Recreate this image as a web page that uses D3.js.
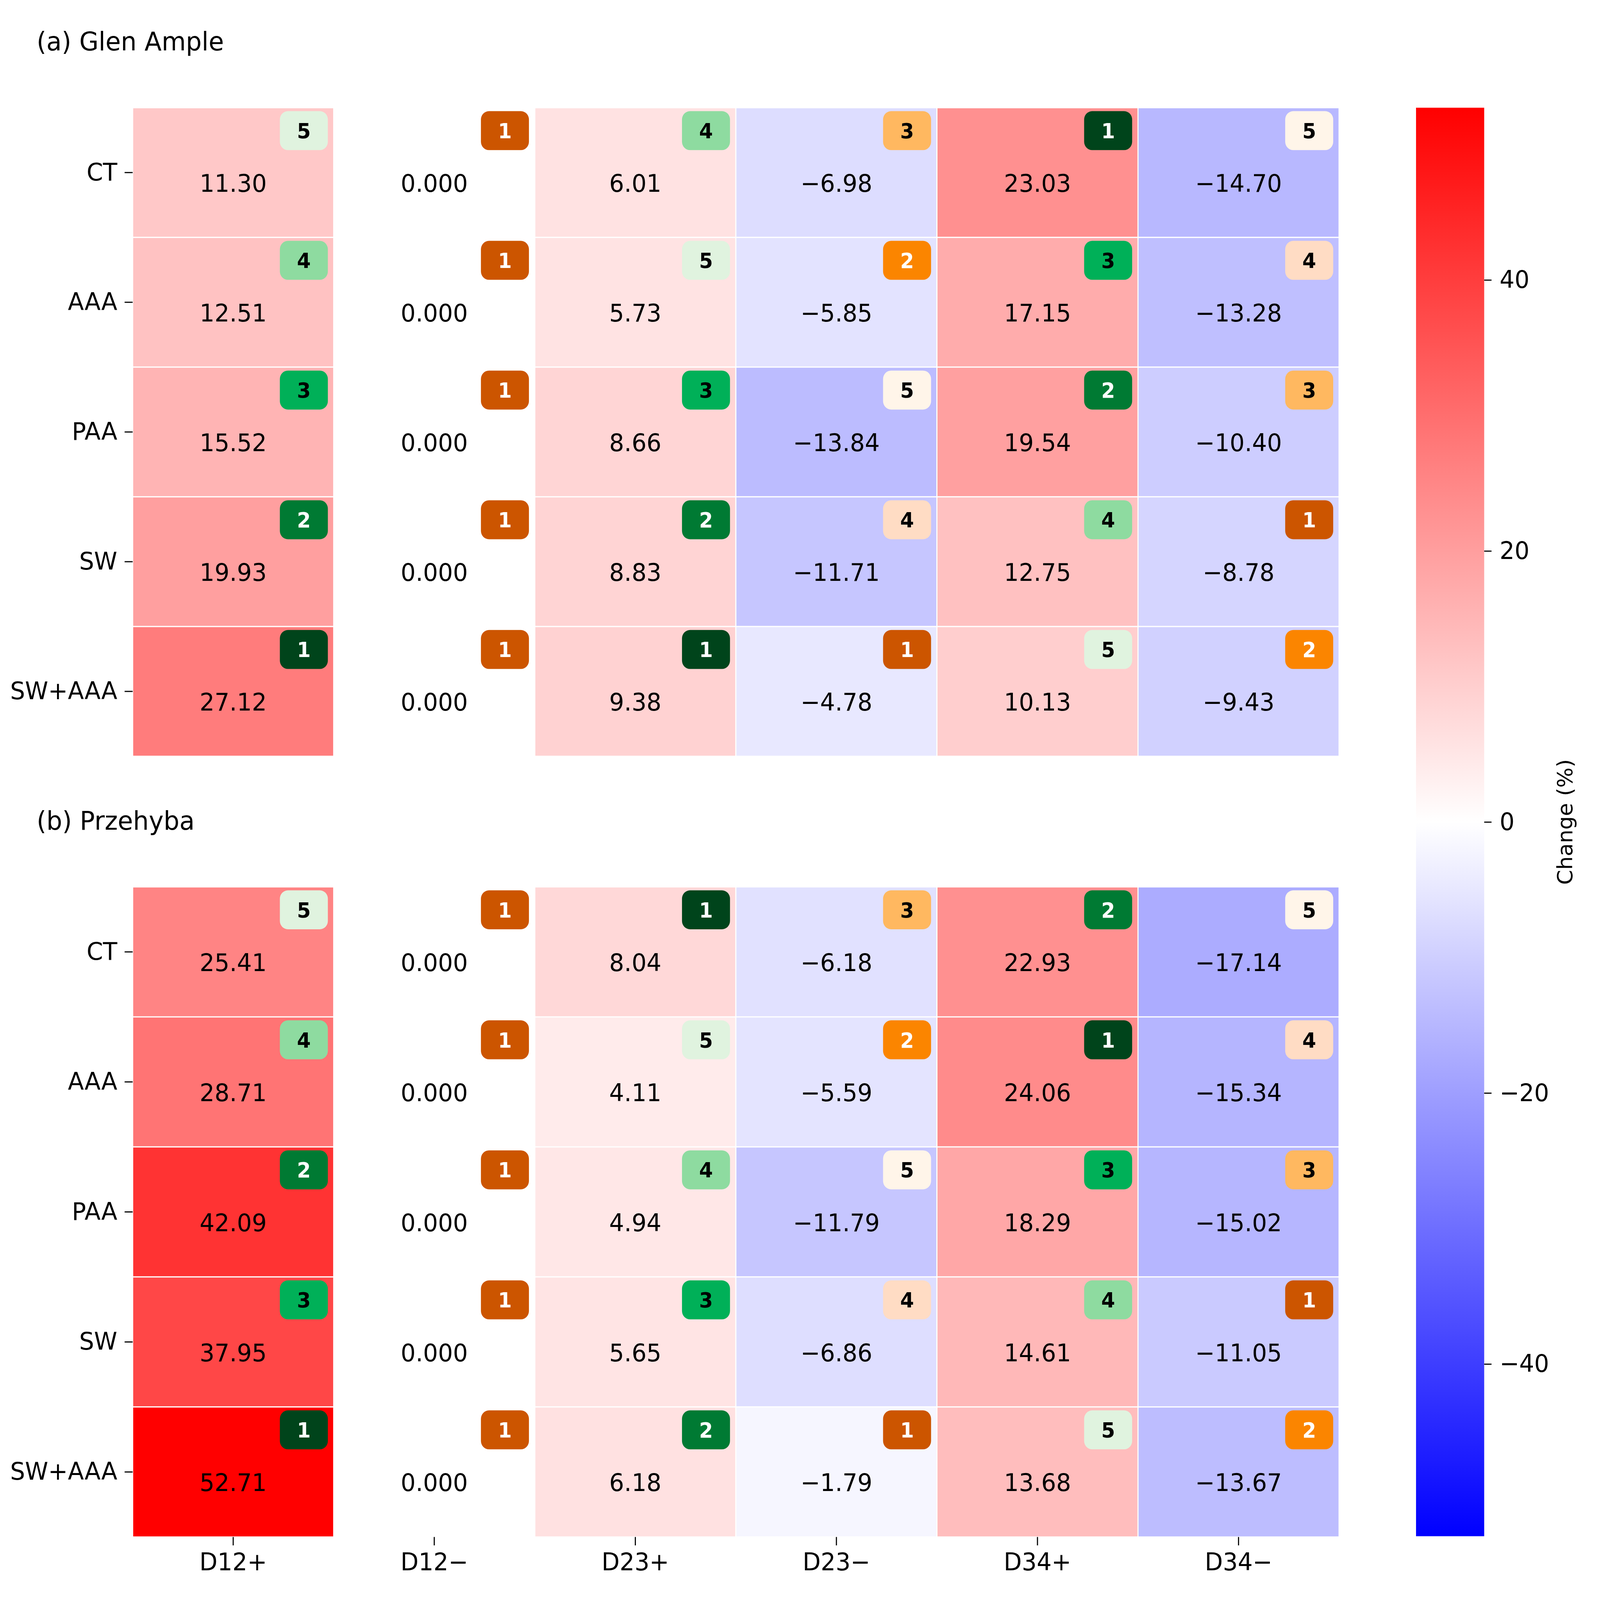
<!DOCTYPE html>
<html>
<head>
<meta charset="utf-8">
<title>Change heatmap</title>
<script src="https://d3js.org/d3.v7.min.js"></script>
<style>
  html, body { margin: 0; padding: 0; background: #fff; overflow: hidden; }
  svg { display: block; width: 100vw; height: 100vh; }
  text { font-family: "DejaVu Sans", sans-serif; }
</style>
</head>
<body>
<div id="chart"></div>
<script>
// --- data ---
const rowsLabels = ["CT", "AAA", "PAA", "SW", "SW+AAA"];
const colLabels = ["D12+", "D12\u2212", "D23+", "D23\u2212", "D34+", "D34\u2212"];

const glenValues = [
  [11.30, 0, 6.01, -6.98, 23.03, -14.70],
  [12.51, 0, 5.73, -5.85, 17.15, -13.28],
  [15.52, 0, 8.66, -13.84, 19.54, -10.40],
  [19.93, 0, 8.83, -11.71, 12.75, -8.78],
  [27.12, 0, 9.38, -4.78, 10.13, -9.43]
];
const glenRanks = [
  [5, 1, 4, 3, 1, 5],
  [4, 1, 5, 2, 3, 4],
  [3, 1, 3, 5, 2, 3],
  [2, 1, 2, 4, 4, 1],
  [1, 1, 1, 1, 5, 2]
];
const przValues = [
  [25.41, 0, 8.04, -6.18, 22.93, -17.14],
  [28.71, 0, 4.11, -5.59, 24.06, -15.34],
  [42.09, 0, 4.94, -11.79, 18.29, -15.02],
  [37.95, 0, 5.65, -6.86, 14.61, -11.05],
  [52.71, 0, 6.18, -1.79, 13.68, -13.67]
];
const przRanks = [
  [5, 1, 1, 3, 2, 5],
  [4, 1, 5, 2, 1, 4],
  [2, 1, 4, 5, 3, 3],
  [3, 1, 3, 4, 4, 1],
  [1, 1, 2, 1, 5, 2]
];
const panelTitles = ["(a) Glen Ample", "(b) Przehyba"];
const cbarTicks = [-40, -20, 0, 20, 40];

// badge colours by rank: "+" columns green, "-" columns orange
const greenBadge = ["#00441b", "#007a33", "#00b058", "#8edba0", "#e0f3df"];
const orangeBadge = ["#cc5500", "#fb8500", "#ffb860", "#ffdcc4", "#fff5e9"];

const W = 4366, H = 4189;
// stretch to the window so the figure fills the frame edge to edge
const svg = d3.select("#chart").append("svg")
  .attr("viewBox", `0 0 ${W} ${H}`)
  .attr("preserveAspectRatio", "none");

const vmax = d3.max([...glenValues.flat(), ...przValues.flat()], d => Math.abs(d));
const color = d3.scaleLinear()
  .domain([-vmax, 0, vmax])
  .range(["#0000ff", "#ffffff", "#ff0000"]);

const left = 362, right = 3654;
const x = d3.scaleBand().domain(colLabels).range([left, right]);
const panelTops = [282, 2322];
const panelBottoms = [1980, 4024];
const fmt = d3.format(".2f");

function drawPanel(i, values, ranks, showX) {
  const y = d3.scaleBand().domain(rowsLabels).range([panelTops[i], panelBottoms[i]]);
  const g = svg.append("g");

  const cells = [];
  values.forEach((row, r) => row.forEach((v, c) => cells.push({
    row: rowsLabels[r], col: colLabels[c], c: c, v: v, rank: ranks[r][c]
  })));

  g.selectAll("rect.cell").data(cells).enter().append("rect")
    .attr("class", "cell")
    .attr("x", d => x(d.col))
    .attr("y", d => y(d.row))
    .attr("width", x.bandwidth())
    .attr("height", y.bandwidth())
    .attr("fill", d => color(d.v))
    .attr("stroke", "#ffffff")
    .attr("stroke-width", 3);

  // value labels, a little below the middle of the cell
  g.selectAll("text.val").data(cells).enter().append("text")
    .attr("class", "val")
    .attr("x", d => x(d.col) + x.bandwidth() / 2)
    .attr("y", d => y(d.row) + y.bandwidth() * 0.58 + 23)
    .attr("text-anchor", "middle")
    .attr("font-size", 64)
    .attr("fill", "#000")
    .text(d => d.v === 0 ? "0.000" : fmt(d.v));

  // rank badges in the top-right corner
  const bw = 131, bh = 102;
  const badge = g.selectAll("g.badge").data(cells).enter().append("g")
    .attr("class", "badge")
    .attr("transform", d => `translate(${x(d.col) + x.bandwidth() - 16 - bw},${y(d.row) + 9})`);
  badge.append("rect")
    .attr("width", bw).attr("height", bh).attr("rx", 22).attr("ry", 22)
    .attr("fill", d => (d.c % 2 === 0 ? greenBadge : orangeBadge)[d.rank - 1]);
  badge.append("text")
    .attr("x", bw / 2).attr("y", bh / 2 + 20)
    .attr("text-anchor", "middle")
    .attr("font-size", 54)
    .attr("font-weight", "bold")
    .attr("fill", d => d.rank <= 2 ? "#ffffff" : "#000000")
    .text(d => d.rank);

  // y axis
  const yAxis = g.append("g")
    .attr("transform", `translate(${left},0)`)
    .call(d3.axisLeft(y).tickSize(22).tickPadding(20));
  yAxis.select(".domain").remove();
  yAxis.selectAll("line").attr("stroke", "#000").attr("stroke-width", 3);
  yAxis.selectAll("text").attr("font-size", 64).attr("fill", "#000")
    .attr("font-family", "DejaVu Sans, sans-serif");

  if (showX) {
    const xAxis = g.append("g")
      .attr("transform", `translate(0,${panelBottoms[i]})`)
      .call(d3.axisBottom(x).tickSize(22).tickPadding(20));
    xAxis.select(".domain").remove();
    xAxis.selectAll("line").attr("stroke", "#000").attr("stroke-width", 3);
    xAxis.selectAll("text").attr("font-size", 64).attr("fill", "#000")
      .attr("font-family", "DejaVu Sans, sans-serif");
  }

  svg.append("text")
    .attr("x", 100)
    .attr("y", panelTops[i] - 150)
    .attr("font-size", 68)
    .attr("fill", "#000")
    .text(panelTitles[i]);
}

drawPanel(0, glenValues, glenRanks, false);
drawPanel(1, przValues, przRanks, true);

// colour bar
const cbX = 3864, cbW = 186, cbTop = 282, cbBottom = 4022;
const defs = svg.append("defs");
const grad = defs.append("linearGradient")
  .attr("id", "cbar").attr("x1", 0).attr("y1", 1).attr("x2", 0).attr("y2", 0);
d3.range(0, 1.0001, 0.05).forEach(t => {
  grad.append("stop").attr("offset", t).attr("stop-color", color(-vmax + 2 * vmax * t));
});
svg.append("rect")
  .attr("x", cbX).attr("y", cbTop).attr("width", cbW).attr("height", cbBottom - cbTop)
  .attr("fill", "url(#cbar)");

const cbScale = d3.scaleLinear().domain([-vmax, vmax]).range([cbBottom, cbTop]);
const cbAxis = svg.append("g")
  .attr("transform", `translate(${cbX + cbW},0)`)
  .call(d3.axisRight(cbScale).tickValues(cbarTicks).tickSize(20).tickPadding(22));
cbAxis.select(".domain").remove();
cbAxis.selectAll("line").attr("stroke", "#000").attr("stroke-width", 3);
cbAxis.selectAll("text").attr("font-size", 64).attr("fill", "#000")
  .attr("font-family", "DejaVu Sans, sans-serif");

svg.append("text")
  .attr("transform", `translate(4290,${(cbTop + cbBottom) / 2}) rotate(-90)`)
  .attr("text-anchor", "middle")
  .attr("font-size", 56)
  .attr("fill", "#000")
  .text("Change (%)");
</script>
</body>
</html>
